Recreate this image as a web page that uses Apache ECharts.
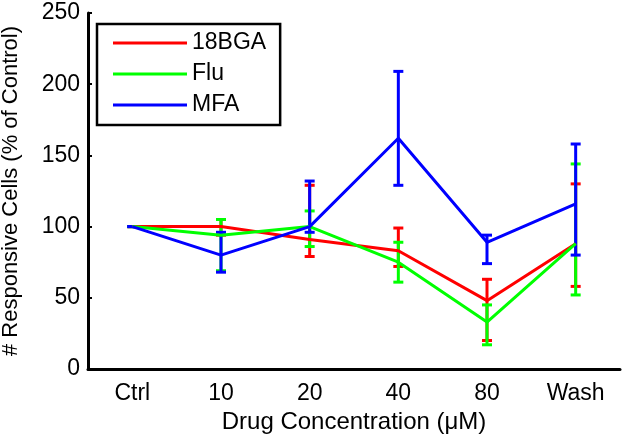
<!DOCTYPE html>
<html>
<head>
<meta charset="utf-8">
<script src="https://cdn.jsdelivr.net/npm/echarts@6/dist/echarts.min.js"></script>
<style>
html,body{margin:0;padding:0;background:#fff;}
#chart{width:630px;height:445px;}
</style>
</head>
<body>
<div id="chart"></div>
<script>
var categories = ['Ctrl', '10', '20', '40', '80', 'Wash'];
var yTicks = [0, 50, 100, 150, 200, 250];

var bga     = [100, 100,  91,  83, 48,  88];
var bgaLow  = [100,  94,  79,  72, 20,  58];
var bgaHigh = [100, 105, 129,  99, 63, 130];

var flu     = [100,  94, 100,  75, 33,  88];
var fluLow  = [100,  69,  86,  61, 17,  52];
var fluHigh = [100, 105, 111,  89, 45, 144];

var mfa     = [100,  80, 100, 162, 89, 116];
var mfaLow  = [100,  68,  96, 129, 74,  80];
var mfaHigh = [100,  96, 132, 209, 94, 158];

var FONT = "'Liberation Sans', Arial, Helvetica, sans-serif";

function errData(lo, hi) {
  return categories.map(function (c, i) { return [i, lo[i], hi[i]]; });
}

function errSeries(name, color, lo, hi) {
  return {
    name: name,
    type: 'custom',
    data: errData(lo, hi),
    renderItem: function (params, api) {
      var x = api.value(0);
      var pLo = api.coord([x, api.value(1)]);
      var pHi = api.coord([x, api.value(2)]);
      var w = 5;
      var st = { stroke: color, lineWidth: 3, fill: null };
      return {
        type: 'group',
        children: [
          { type: 'line', shape: { x1: pLo[0], y1: pLo[1], x2: pHi[0], y2: pHi[1] }, style: st },
          { type: 'line', shape: { x1: pLo[0] - w, y1: pLo[1], x2: pLo[0] + w, y2: pLo[1] }, style: st },
          { type: 'line', shape: { x1: pHi[0] - w, y1: pHi[1], x2: pHi[0] + w, y2: pHi[1] }, style: st }
        ]
      };
    },
    silent: true
  };
}

function lineSeries(name, color, data) {
  return {
    name: name,
    type: 'line',
    data: data,
    showSymbol: false,
    symbol: 'none',
    lineStyle: { color: color, width: 3 },
    itemStyle: { color: color },
    animation: false
  };
}

var chart = echarts.init(document.getElementById('chart'));
chart.setOption({
  animation: false,
  backgroundColor: '#fff',
  grid: { left: 88, right: 10, top: 13, bottom: 76, containLabel: false, outerBoundsMode: 'none' },
  legend: {
    left: 97, top: 24,
    orient: 'vertical',
    data: [
      { name: '18BGA', icon: 'rect', itemStyle: { color: '#ff0000' } },
      { name: 'Flu', icon: 'rect', itemStyle: { color: '#00ff00' } },
      { name: 'MFA', icon: 'rect', itemStyle: { color: '#0000ff' } }
    ],
    itemWidth: 74,
    itemHeight: 3,
    itemGap: 7,
    itemTextGap: 10,
    padding: [7, 14, 8, 16],
    borderColor: '#000',
    borderWidth: 2.5,
    backgroundColor: '#fff',
    textStyle: { fontFamily: FONT, fontSize: 23, color: '#000', lineHeight: 24 },
    selectedMode: false
  },
  xAxis: {
    type: 'category',
    data: categories,
    boundaryGap: true,
    name: 'Drug Concentration (\u03bcM)',
    nameLocation: 'middle',
    nameGap: 41,
    nameTextStyle: { fontFamily: FONT, fontSize: 24, color: '#000' },
    axisLine: { lineStyle: { color: '#000', width: 3 } },
    axisTick: { inside: true, alignWithLabel: true, length: 4, lineStyle: { color: '#000', width: 2 } },
    axisLabel: { fontFamily: FONT, fontSize: 23, color: '#000', margin: 13 },
    splitLine: { show: false }
  },
  yAxis: {
    type: 'value',
    min: yTicks[0],
    max: yTicks[yTicks.length - 1],
    interval: 50,
    name: '# Responsive Cells (% of Control)',
    nameLocation: 'middle',
    nameGap: 66,
    nameTextStyle: { fontFamily: FONT, fontSize: 22, color: '#000' },
    axisLine: { show: true, lineStyle: { color: '#000', width: 3 } },
    axisTick: { show: true, inside: true, length: 4, lineStyle: { color: '#000', width: 2 } },
    axisLabel: { fontFamily: FONT, fontSize: 23, color: '#000', margin: 8 },
    splitLine: { show: false }
  },
  series: [
    lineSeries('18BGA', '#ff0000', bga),
    errSeries('18BGA', '#ff0000', bgaLow, bgaHigh),
    lineSeries('Flu', '#00ff00', flu),
    errSeries('Flu', '#00ff00', fluLow, fluHigh),
    lineSeries('MFA', '#0000ff', mfa),
    errSeries('MFA', '#0000ff', mfaLow, mfaHigh)
  ]
});
</script>
</body>
</html>
